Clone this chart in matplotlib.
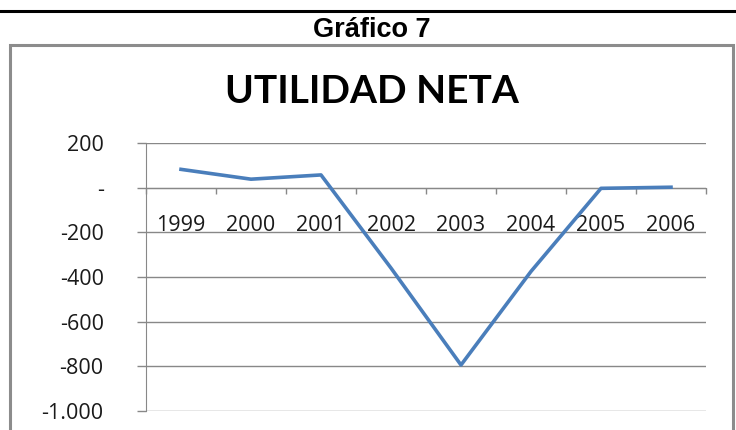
import matplotlib
matplotlib.use("Agg")
import matplotlib.pyplot as plt
from matplotlib.lines import Line2D
from matplotlib.patches import Rectangle
from matplotlib.ticker import FixedLocator, FixedFormatter, NullFormatter

years = ["1999", "2000", "2001", "2002", "2003", "2004", "2005", "2006"]
utilidad = [82, 38, 57, -360, -794, -375, -3, 2]
y_ticks = [200, 0, -200, -400, -600, -800, -1000]
y_labels = ["200", "-", "-200", "-400", "-600", "-800", "-1.000"]

W, H = 736, 430
fig = plt.figure(figsize=(W / 100, H / 100), dpi=100)
fig.patch.set_facecolor("white")

def fx(px):
    return px / W

def fy(py):
    return 1 - py / H

# top black rule
fig.add_artist(Line2D([0, 1], [fy(10.5), fy(10.5)], color="black", lw=2.2))
# chart frame
fig.add_artist(Rectangle((fx(10), fy(440)), fx(723), (440 - 45) / H,
                         fill=False, edgecolor="#8c8c8c", lw=2.2))

fig.text(fx(372), fy(36.7), "Gráfico 7", ha="center", va="baseline",
         fontsize=19.5, fontweight="bold", family="Liberation Sans")
fig.text(fx(372), fy(103), "UTILIDAD NETA", ha="center", va="baseline",
         fontsize=28, fontweight="bold", family="Lato")

left, right, top, bottom = 146, 706, 143, 411
ax = fig.add_axes([fx(left), 1 - bottom / H, (right - left) / W, (bottom - top) / H])
ax.set_facecolor("none")

x = list(range(len(years)))
ax.plot(x, utilidad, color="#4A7EBB", lw=2.6, solid_joinstyle="round", zorder=3)

ax.set_xlim(-0.5, len(years) - 0.5)
ax.set_ylim(-1000, 200)

grid_c = "#888888"
txt_c = "#1a1a1a"
ax.yaxis.set_major_locator(FixedLocator(y_ticks))
ax.yaxis.set_major_formatter(FixedFormatter(y_labels))
ax.grid(axis="y", color=grid_c, lw=1.0)
ax.tick_params(axis="y", direction="out", length=6.5, width=1.0, color=grid_c,
               labelsize=15.5, pad=24, labelcolor=txt_c)

ax.spines["bottom"].set_position(("data", 0))
ax.spines["bottom"].set_color(grid_c)
ax.spines["left"].set_color(grid_c)
ax.spines["top"].set_visible(False)
ax.spines["right"].set_visible(False)

ax.xaxis.set_major_locator(FixedLocator(x))
ax.xaxis.set_major_formatter(FixedFormatter(years))
ax.xaxis.set_minor_locator(FixedLocator([i - 0.5 for i in range(len(years) + 1)]))
ax.xaxis.set_minor_formatter(NullFormatter())
ax.tick_params(axis="x", which="major", length=0, pad=20, labelsize=15.5,
               labelcolor=txt_c)
ax.tick_params(axis="x", which="minor", direction="out", length=4.5, width=1.0,
               color=grid_c)

for lbl in ax.get_xticklabels() + ax.get_yticklabels():
    lbl.set_family("Open Sans")

fig.savefig("out.png", dpi=100, facecolor="white")
